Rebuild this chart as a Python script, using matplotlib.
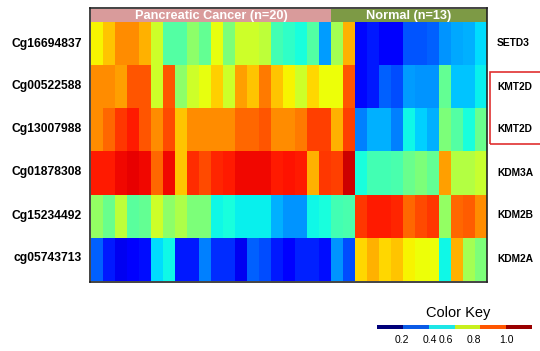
import numpy as np
import matplotlib
matplotlib.use('Agg')
import matplotlib.pyplot as plt
from matplotlib.patches import Rectangle

plt.rcParams['font.family'] = ['Liberation Sans', 'DejaVu Sans']

# probe ids (left) and gene names (right)
probes = ['Cg16694837', 'Cg00522588', 'Cg13007988', 'Cg01878308', 'Cg15234492', 'cg05743713']
genes = ['SETD3', 'KMT2D', 'KMT2D', 'KDM3A', 'KDM2B', 'KDM2A']

n_cancer = 20
n_normal = 13

# methylation values, 20 cancer samples then 13 normal samples per probe
setd3 = [0.65, 0.70, 0.76, 0.76, 0.72, 0.60, 0.45, 0.45, 0.52, 0.47,
         0.63, 0.50, 0.60, 0.60, 0.58, 0.43, 0.41, 0.38, 0.45, 0.28,
         0.55, 0.72, 0.13, 0.15, 0.11, 0.11, 0.21, 0.21, 0.22, 0.27, 0.29, 0.30, 0.34]
kmt2d_a = [0.76, 0.76, 0.74, 0.82, 0.82, 0.60, 0.82, 0.52, 0.60, 0.63,
           0.69, 0.60, 0.74, 0.70, 0.78, 0.70, 0.65, 0.60, 0.68, 0.64,
           0.64, 0.82, 0.13, 0.15, 0.22, 0.20, 0.28, 0.27, 0.27, 0.47, 0.32, 0.32, 0.36]
kmt2d_b = [0.76, 0.80, 0.85, 0.88, 0.82, 0.76, 0.83, 0.70, 0.76, 0.76,
           0.76, 0.76, 0.80, 0.80, 0.82, 0.76, 0.76, 0.78, 0.84, 0.84,
           0.72, 0.84, 0.25, 0.30, 0.30, 0.25, 0.37, 0.33, 0.30, 0.50, 0.45, 0.38, 0.48]
kdm3a = [0.88, 0.88, 0.90, 0.91, 0.90, 0.80, 0.90, 0.70, 0.86, 0.83,
         0.87, 0.88, 0.90, 0.90, 0.90, 0.88, 0.89, 0.88, 0.72, 0.85,
         0.84, 0.93, 0.38, 0.43, 0.43, 0.44, 0.48, 0.50, 0.47, 0.74, 0.57, 0.57, 0.59]
kdm2b = [0.53, 0.48, 0.58, 0.46, 0.47, 0.60, 0.52, 0.56, 0.50, 0.50,
         0.37, 0.38, 0.36, 0.36, 0.36, 0.30, 0.27, 0.27, 0.37, 0.38,
         0.43, 0.44, 0.85, 0.88, 0.88, 0.87, 0.80, 0.83, 0.85, 0.53, 0.80, 0.81, 0.76]
kdm2a = [0.22, 0.15, 0.10, 0.12, 0.14, 0.34, 0.37, 0.15, 0.15, 0.25,
         0.17, 0.17, 0.10, 0.22, 0.20, 0.15, 0.12, 0.16, 0.16, 0.14,
         0.27, 0.20, 0.68, 0.72, 0.68, 0.70, 0.65, 0.64, 0.64, 0.37, 0.72, 0.55, 0.50]

data = np.array([setd3, kmt2d_a, kmt2d_b, kdm3a, kdm2b, kdm2a])

key_colors = ['#00007a', '#0a5ae6', '#1ee6e6', '#c8f01e', '#ff5500', '#9a0000']
key_labels = ['0.2', '0.4', '0.6', '0.8', '1.0']
key_ticks = [0.194, 0.41, 0.534, 0.751, 1.006]

W, H = 540, 351
fig = plt.figure(figsize=(W / 100, H / 100), dpi=100)

def box(x0, y0, x1, y1):
    # pixel box -> figure fraction
    return [x0 / W, 1 - y1 / H, (x1 - x0) / W, (y1 - y0) / H]

# heatmap
ax = fig.add_axes(box(91, 22, 487, 281))
ax.imshow(data, cmap='jet', vmin=0, vmax=1, aspect='auto', interpolation='nearest')
ax.set_xticks([])
ax.set_yticks([])
for s in ax.spines.values():
    s.set_visible(False)

# sample group header
hx = fig.add_axes(box(91, 9, 487, 22))
hx.set_xlim(0, n_cancer + n_normal)
hx.set_ylim(0, 1)
hx.add_patch(Rectangle((0, 0), n_cancer, 1, color='#d99b9b', lw=0))
hx.add_patch(Rectangle((n_cancer, 0), n_normal, 1, color='#7d9a45', lw=0))
hx.text(n_cancer / 2, 0.5, 'Pancreatic Cancer (n=20)', color='white', fontsize=9.2,
        fontweight='bold', ha='center', va='center')
hx.text(n_cancer + n_normal / 2, 0.5, 'Normal (n=13)', color='white', fontsize=9.2,
        fontweight='bold', ha='center', va='center')
hx.axis('off')

# frame round header + heatmap
fr = fig.add_axes(box(90, 8, 487, 282))
fr.patch.set_alpha(0)
fr.set_xticks([])
fr.set_yticks([])
for s in fr.spines.values():
    s.set_color('#222222')
    s.set_linewidth(1.2)

# row labels
for i, (p, g) in enumerate(zip(probes, genes)):
    y = 1 - (22 + 43 * (i + 0.5)) / H
    fig.text(82 / W, y, p, fontsize=8.7, fontweight='bold', ha='right', va='center')
    fig.text(497 / W, y, g, fontsize=7.4, fontweight='bold', ha='left', va='center')

# red box around the KMT2D labels
fig.patches.append(Rectangle((490 / W, 1 - 144 / H), 60 / W, 72 / H, fill=False,
                             edgecolor='#e03030', lw=1.2, transform=fig.transFigure))

# colour key
fig.text(458 / W, 1 - 313 / H, 'Color Key', fontsize=10.5, ha='center', va='center')
kx = fig.add_axes(box(377, 325, 532, 329))
kx.set_xlim(0, 1.2)
kx.set_ylim(0, 1)
for j, c in enumerate(key_colors):
    kx.add_patch(Rectangle((j * 0.2, 0), 0.2, 1, color=c, lw=0))
kx.set_yticks([])
kx.set_xticks(key_ticks)
kx.set_xticklabels(key_labels, fontsize=7.5)
kx.tick_params(axis='x', length=0, pad=4)
for s in kx.spines.values():
    s.set_visible(False)

fig.savefig('out.png', dpi=100)
